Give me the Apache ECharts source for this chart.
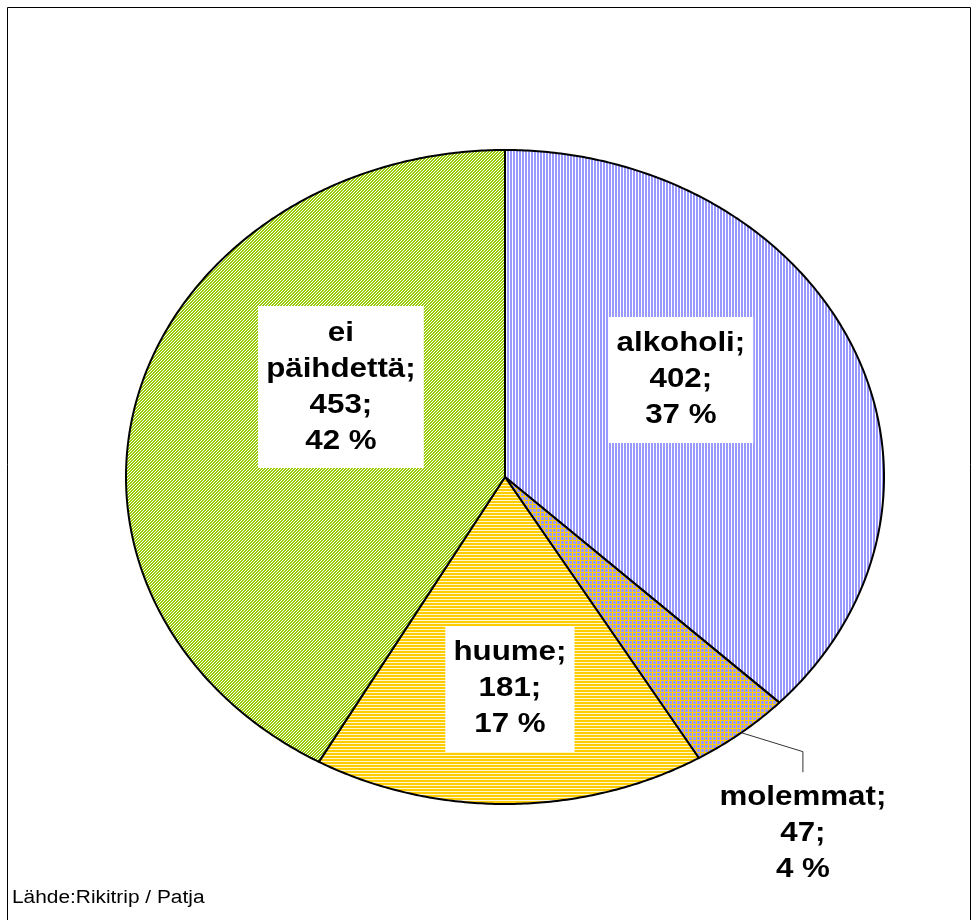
<!DOCTYPE html>
<html>
<head>
<meta charset="utf-8">
<script src="https://cdn.jsdelivr.net/npm/echarts@6/dist/echarts.min.js"></script>
<style>
  html, body { margin: 0; padding: 0; background: #fff; }
  #chart { width: 979px; height: 920px; }
</style>
</head>
<body>
<div id="chart"></div>
<script>
// Substance-use groups and their counts
const categories = ['alkoholi', 'molemmat', 'huume', 'ei päihdettä'];
const counts = [402, 47, 181, 453];
const sourceNote = 'Lähde:Rikitrip / Patja';

// Layout of the elliptical pie
const CX = 505, CY = 477, RX = 379, RY = 327;
const STRETCH = RX / RY;           // horizontal stretch also applied to text
const FONT = 'bold 27px "Liberation Sans", Arial, sans-serif';

// Label anchor for each slice, in units of the radii relative to the centre
const labelSpots = [
  { dx: 0.464, dy: -0.297, boxed: true },
  { dx: 0.786, dy: 1.089, boxed: false, leader: true },
  { dx: 0.013, dy: 0.648, boxed: true },
  { dx: -0.433, dy: -0.275, boxed: true }
];

// Tiled fill patterns
function makeTile(w, h, paint) {
  const c = document.createElement('canvas');
  c.width = w; c.height = h;
  const g = c.getContext('2d');
  for (let y = 0; y < h; y++) {
    for (let x = 0; x < w; x++) {
      g.fillStyle = paint(x, y);
      g.fillRect(x, y, 1, 1);
    }
  }
  return { image: c, repeat: 'repeat' };
}
const BLUE = '#9999ff', YELLOW = '#ffcc00', GREEN = '#99cc00';
const fills = [
  makeTile(3, 1, (x) => (x < 2 ? BLUE : '#ffffff')),
  makeTile(4, 4, (x, y) => (x === 0 || y === 0 ? YELLOW : BLUE)),
  makeTile(1, 3, (x, y) => (y < 2 ? YELLOW : '#fff7d0')),
  makeTile(3, 3, (x, y) => ((x + y) % 3 < 2 ? GREEN : '#ffffff'))
];

const total = counts.reduce((a, b) => a + b, 0);

function ellipsePoint(angle, f) {
  return [CX + RX * f * Math.sin(angle), CY - RY * f * Math.cos(angle)];
}

function renderSlice(params, api) {
  const i = params.dataIndex;
  const value = api.value(0);
  let before = 0;
  for (let k = 0; k < i; k++) before += counts[k];
  const a0 = before / total * Math.PI * 2;
  const a1 = (before + value) / total * Math.PI * 2;
  const pts = [[CX, CY]];
  const steps = Math.max(4, Math.ceil((a1 - a0) / (Math.PI / 360)));
  for (let s = 0; s <= steps; s++) {
    pts.push(ellipsePoint(a0 + (a1 - a0) * s / steps, 1));
  }
  const pct = Math.round(value / total * 100);
  const spot = labelSpots[i];
  const lx = CX + spot.dx * RX, ly = CY + spot.dy * RY;
  const text = categories[i].replace(' ', '\n') + ';\n' + value + ';\n' + pct + ' %';

  const children = [{
    type: 'polygon',
    shape: { points: pts },
    style: { fill: fills[i], stroke: '#000', lineWidth: 2, lineJoin: 'round' }
  }];
  if (spot.leader) {
    const edge = ellipsePoint((a0 + a1) / 2, 1);
    children.push({
      type: 'polyline',
      shape: { points: [edge, [lx, CY + 0.84 * RY], [lx, CY + 0.903 * RY]] },
      style: { stroke: '#333', lineWidth: 1, fill: null }
    });
  }
  const textStyle = {
    text: text,
    font: FONT,
    fill: '#000',
    align: 'center',
    verticalAlign: 'middle',
    lineHeight: 36
  };
  if (spot.boxed) {
    textStyle.backgroundColor = '#ffffff';
    textStyle.padding = [9, 7, 9, 7];
  }
  children.push({
    type: 'text',
    x: lx, y: ly,
    scaleX: STRETCH, scaleY: 1,
    style: textStyle,
    z2: 10
  });
  return { type: 'group', children: children };
}

const chart = echarts.init(document.getElementById('chart'), null, { renderer: 'canvas' });
chart.setOption({
  backgroundColor: '#ffffff',
  animation: false,
  graphic: [
    {
      type: 'rect',
      shape: { x: 7.5, y: 7.5, width: 963, height: 930 },
      style: { fill: null, stroke: '#000', lineWidth: 1 },
      silent: true
    },
    {
      type: 'text',
      x: 12, y: 907,
      scaleX: STRETCH, scaleY: 1,
      style: {
        text: sourceNote,
        font: '18px "Liberation Sans", Arial, sans-serif',
        fill: '#000',
        align: 'left',
        verticalAlign: 'bottom'
      }
    }
  ],
  series: [{
    type: 'custom',
    coordinateSystem: 'none',
    renderItem: renderSlice,
    data: counts.map((v, i) => ({ name: categories[i], value: v }))
  }]
});
</script>
</body>
</html>
